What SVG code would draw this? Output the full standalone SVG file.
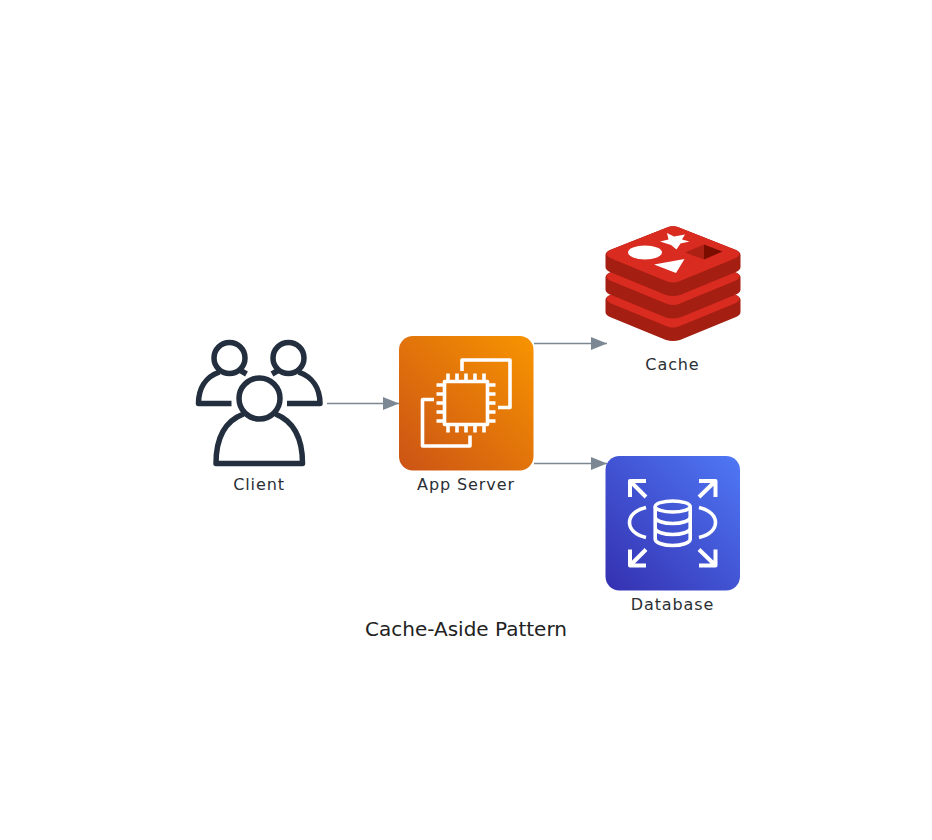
<svg xmlns="http://www.w3.org/2000/svg" width="932" height="840" viewBox="0 0 932 840">
<style>
text{font-family:"DejaVu Sans",sans-serif;fill:#2a2f35;text-anchor:middle}
.l{font-size:16px;letter-spacing:.9px}
.t{font-size:20px;fill:#222}
.u{fill:none;stroke:#232f3e;stroke-width:5.500;stroke-linecap:butt;stroke-linejoin:round}
.w{fill:none;stroke:#fff;stroke-width:3.600;stroke-linecap:butt;stroke-linejoin:round}
.c{fill:none;stroke:#7b8894;stroke-width:1.400}
.side{fill:#a41e11}.face{fill:#d92b20}
</style>
<defs>
<linearGradient id="o" x1="0" y1="1" x2="1" y2="0"><stop offset="0" stop-color="#cb5315"/><stop offset="1" stop-color="#f89400"/></linearGradient>
<linearGradient id="b" x1="0" y1="1" x2="1" y2="0"><stop offset="0" stop-color="#3430b0"/><stop offset="1" stop-color="#4f78f6"/></linearGradient>
<marker id="a" markerUnits="userSpaceOnUse" markerWidth="17" markerHeight="14" refX="16" refY="6.5" orient="auto"><path d="M0 0L16 6.500L0 13Z" fill="#7b8894"/></marker>
<path id="d" d="M667 227.500Q673 225 679 227.500L736 250Q740.500 252 740.500 255V267Q740.500 270 736 272L680 295Q673 297 666 295L610 272Q605.500 270 605.500 267V255Q605.500 252 610 250Z"/>
<path id="f" d="M667 227.500Q673 225 679 227.500L736 250Q743 254 736 258L680 281Q673 284 666 281L610 258Q603 254 610 250Z"/>
</defs>
<g id="connectors">
<path class="c" d="M327 403.500H399" marker-end="url(#a)"/>
<path class="c" d="M534 343.500H607" marker-end="url(#a)"/>
<path class="c" d="M534 463.500H607" marker-end="url(#a)"/>
</g>
<g id="client">
<circle class="u" cx="229.500" cy="358" r="15.500"/>
<circle class="u" cx="288.500" cy="358" r="15.500"/>
<path class="u" d="M219.500 372C205 377 198.500 389 198.500 403.500H231.500M240.500 370.500L246.500 374"/>
<path class="u" d="M298.500 372C313 377 320 389 320 403.500H287M278 370.500L272 374"/>
<circle class="u" cx="259.500" cy="398.500" r="20.500"/>
<path class="u" d="M243.500 414C225 421 216 438 216 463.500H302.500C302.500 438 293 421 275.500 414"/>
<text class="l" x="259" y="490">Client</text>
</g>
<g id="app-server">
<rect x="399" y="336" width="134.500" height="134.500" rx="14" fill="url(#o)"/>
<rect class="w" x="444.500" y="381.500" width="43" height="43"/>
<path class="w" d="M448 373.500V380M457 373.500V380M466 373.500V380M475 373.500V380M484 373.500V380M448 426V432.500M457 426V432.500M466 426V432.500M475 426V432.500M484 426V432.500M436.500 385H443M436.500 394H443M436.500 403H443M436.500 412H443M436.500 421H443M489 385H495.500M489 394H495.500M489 403H495.500M489 412H495.500M489 421H495.500"/>
<path class="w" d="M462 371V360H510V407.500H498M470 435.500V446H422.500V399.500H434"/>
<text class="l" x="466" y="490">App Server</text>
</g>
<g id="cache">
<use href="#d" y="45" class="side"/><use href="#f" y="45" class="face"/>
<use href="#d" y="22.500" class="side"/><use href="#f" y="22.500" class="face"/>
<use href="#d" class="side"/><use href="#f" class="face"/>
<ellipse cx="645" cy="252.500" rx="17" ry="7" fill="#fff"/>
<path fill="#fff" d="M667 233L674 236.500L685 234.500L682 239.500L689.500 241.500L680.500 243.500L676.500 249.500L671 245L660 241.500L668.500 239.500Z"/>
<path fill="#fff" d="M654 264.500L684.500 259L676 273Z"/>
<path fill="#ad2115" d="M685 252.500L704 244.500V259.500Z"/>
<path fill="#7a0c00" d="M704 244.500L722.500 251.500L704 259.500Z"/>
<text class="l" x="672.500" y="370">Cache</text>
</g>
<g id="database">
<rect x="605.500" y="456" width="134.500" height="134.500" rx="14" fill="url(#b)"/>
<path class="w" style="stroke-width:4" d="M646 481H630V497M630 481L646 497M699 481H715.500V497M715.500 481L699 497M646 565.500H630V549.500M630 565.500L646 549.500M699 565.500H715.500V549.500M715.500 565.500L699 549.500"/>
<path class="w" d="M646 507.500C635 510 629.500 516 629.500 522.500C629.500 529 635 535 646 537.500M699 507.500C710 510 715.500 516 715.500 522.500C715.500 529 710 535 699 537.500"/>
<ellipse class="w" cx="672.700" cy="506.500" rx="17.500" ry="5.500"/>
<path class="w" d="M655.200 506.500V539C655.200 543 664 545.500 672.700 545.500S690.200 543 690.200 539V506.500M655.200 517C655.200 521 664 523.500 672.700 523.500S690.200 521 690.200 517M655.200 528C655.200 532 664 534.500 672.700 534.500S690.200 532 690.200 528"/>
<text class="l" x="672.500" y="610">Database</text>
</g>
<text class="t" x="466" y="636">Cache-Aside Pattern</text>
</svg>
